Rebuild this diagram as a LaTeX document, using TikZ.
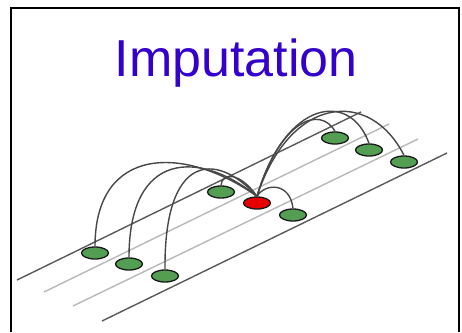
\documentclass[tikz,border=0pt]{standalone}
\usepackage{fontspec}
\setmainfont{Liberation Sans}
\usepackage{xcolor}
\definecolor{Titazul}{RGB}{51,0,204}
\definecolor{Verdesnp}{RGB}{84,158,84}
\definecolor{Rojosnp}{RGB}{232,0,0}
\usetikzlibrary{shapes.geometric, positioning}

\begin{document}
\begin{tikzpicture}[x=1pt, y=-1pt,
    snp/.style={
        ellipse, draw=black!90, line width=1.3pt, fill=Verdesnp,
        minimum width=27pt, minimum height=12pt, inner sep=0pt},
    snpimp/.style={snp, fill=Rojosnp},
    pista/.style={line width=1.4pt, color=black!65},
    pistaclara/.style={line width=1.4pt, color=black!28},
    arco/.style={line width=1.4pt, color=black!72},
    titulo/.style={font=\fontsize{52}{58}\selectfont, text=Titazul, anchor=base}]
  \useasboundingbox (0,0) rectangle (462,332);
  % Marco
  \draw[line width=1.4pt] (11,332) -- (11,8) -- (459,8) -- (459,332);
  % Titulo
  \node[titulo] (tit) at (236,76) {Imputation};
  % Pistas
  \draw[pista]      (17,280)  -- (361,112);
  \draw[pistaclara] (44,292)  -- (389,124);
  \draw[pistaclara] (73,306)  -- (418,139);
  \draw[pista]      (102,321) -- (447,153);
  % Marcadores
  \node[snp] (g1) at (95,253)  {};
  \node[snp] (g2) at (129,264) {};
  \node[snp] (g3) at (165,276) {};
  \node[snp] (g4) at (221,192) {};
  \node[snpimp] (imp) at (257,203) {};
  \node[snp] (g5) at (293,215) {};
  \node[snp] (g6) at (335,138) {};
  \node[snp] (g7) at (369,150) {};
  \node[snp] (g8) at (404,162) {};
  % Arcos
  \draw[arco] (g1.north) .. controls (95,145)  and (185,145) .. (imp.north);
  \draw[arco] (g2.north) .. controls (129,150) and (200,150) .. (imp.north);
  \draw[arco] (g3.north) .. controls (164,155) and (215,150) .. (imp.north);
  \draw[arco] (g4.north) .. controls (222,172) and (240,172) .. (imp.north);
  \draw[arco] (imp.north) .. controls (265,183) and (290,182) .. (g5.north);
  \draw[arco] (imp.north) .. controls (280,120) and (320,105) .. (g6.north);
  \draw[arco] (imp.north) .. controls (285,100) and (350,90)  .. (g7.north);
  \draw[arco] (imp.north) .. controls (290,95)  and (370,88)  .. (g8.north);
\end{tikzpicture}
\end{document}
